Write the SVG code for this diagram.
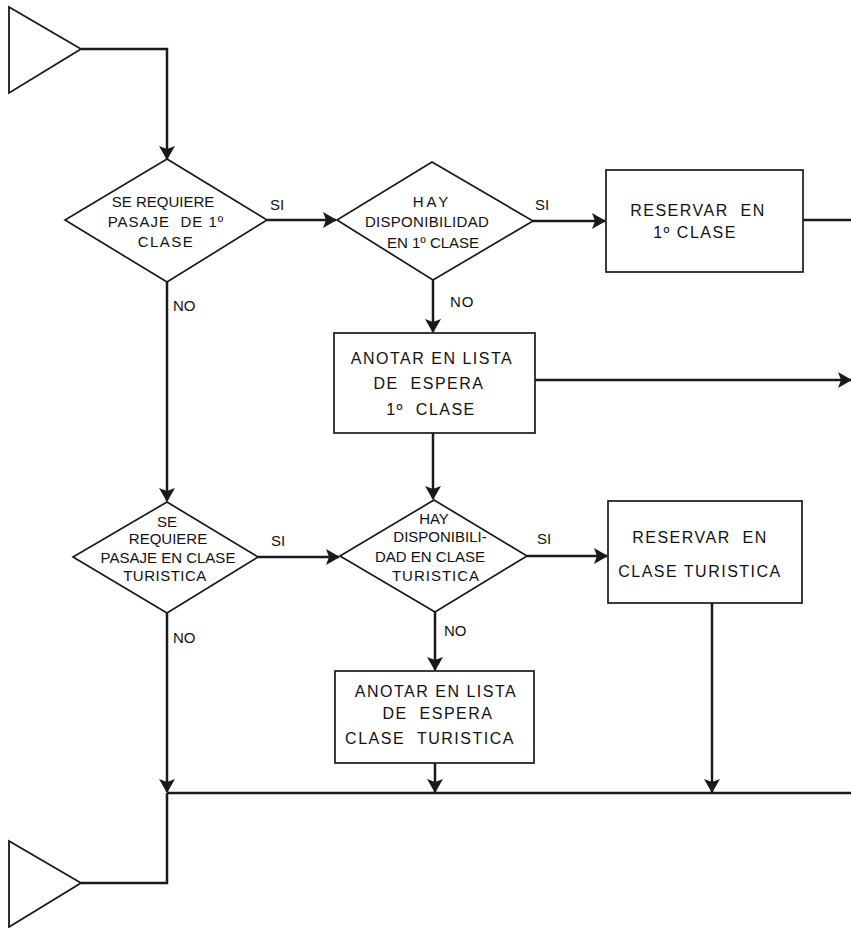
<svg xmlns="http://www.w3.org/2000/svg" width="851" height="928" viewBox="0 0 851 928">
<style>
.shape{fill:#fff;stroke:#1a1a1a;stroke-width:1.7}
.term{fill:#fff;stroke:#1a1a1a;stroke-width:1.8}
.conn{fill:none;stroke:#1a1a1a;stroke-width:2.5}
.t{font-family:"Liberation Sans",Arial,sans-serif;font-size:15px;fill:#111;text-anchor:middle}
.tb{font-family:"Liberation Sans",Arial,sans-serif;font-size:16px;fill:#111;text-anchor:middle;letter-spacing:1.5px}
.lbl{font-family:"Liberation Sans",Arial,sans-serif;font-size:15px;fill:#111}
</style>
<defs>
<marker id="ah" markerUnits="userSpaceOnUse" markerWidth="14" markerHeight="16" viewBox="0 0 14 16" refX="13" refY="8" orient="auto">
<path d="M0,0 L14,8 L0,16 L3,8 z" fill="#1a1a1a"/>
</marker>
</defs>

<g id="connectors">
<polyline class="conn" points="81,49 167,49 167,159" marker-end="url(#ah)"/>
<line class="conn" x1="267" y1="220" x2="336" y2="220" marker-end="url(#ah)"/>
<line class="conn" x1="533" y1="221" x2="605" y2="221" marker-end="url(#ah)"/>
<line class="conn" x1="803" y1="220" x2="851" y2="220"/>
<line class="conn" x1="433" y1="280" x2="433" y2="332" marker-end="url(#ah)"/>
<line class="conn" x1="535" y1="380" x2="851" y2="380" marker-end="url(#ah)"/>
<line class="conn" x1="167" y1="282" x2="167" y2="501" marker-end="url(#ah)"/>
<line class="conn" x1="433" y1="433" x2="433" y2="499" marker-end="url(#ah)"/>
<line class="conn" x1="258" y1="557" x2="339" y2="557" marker-end="url(#ah)"/>
<line class="conn" x1="527" y1="556" x2="607" y2="556" marker-end="url(#ah)"/>
<line class="conn" x1="435" y1="612" x2="435" y2="670" marker-end="url(#ah)"/>
<line class="conn" x1="435" y1="763" x2="435" y2="792" marker-end="url(#ah)"/>
<line class="conn" x1="712" y1="603" x2="712" y2="792" marker-end="url(#ah)"/>
<line class="conn" x1="167" y1="613" x2="167" y2="792" marker-end="url(#ah)"/>
<line class="conn" x1="167" y1="793" x2="851" y2="793"/>
<polyline class="conn" points="167,793 167,883 81,883"/>
<text class="lbl" x="270" y="210">SI</text>
<text class="lbl" x="535" y="210">SI</text>
<text class="lbl" x="173" y="311">NO</text>
<text class="lbl" x="450" y="307" letter-spacing="1">NO</text>
<text class="lbl" x="271" y="546">SI</text>
<text class="lbl" x="537" y="544">SI</text>
<text class="lbl" x="173" y="643">NO</text>
<text class="lbl" x="444" y="636">NO</text>
</g>

<g id="start">
<polygon class="term" points="9,7 81,49 9,93"/>
</g>

<g id="d1">
<polygon class="shape" points="167,159 267,220 167,282 65,220"/>
<text class="t" x="163" y="207">SE REQUIERE</text>
<text class="t" x="166" y="227" letter-spacing="1">PASAJE&#160;&#160;DE 1º</text>
<text class="t" x="166" y="247" letter-spacing="1.5">CLASE</text>
</g>

<g id="d2">
<polygon class="shape" points="432,162 533,221 433,280 337,220"/>
<text class="t" x="432" y="207" letter-spacing="3">HAY</text>
<text class="t" x="427" y="227" letter-spacing="0.3">DISPONIBILIDAD</text>
<text class="t" x="433" y="248">EN 1º CLASE</text>
</g>

<g id="b1">
<rect class="shape" x="606" y="170" width="197" height="102"/>
<text class="tb" x="698" y="216">RESERVAR&#160;&#160;EN</text>
<text class="tb" x="695" y="238">1º CLASE</text>
</g>

<g id="b2">
<rect class="shape" x="334" y="333" width="201" height="100"/>
<text class="tb" x="432" y="364">ANOTAR EN LISTA</text>
<text class="tb" x="429" y="389">DE&#160;&#160;ESPERA</text>
<text class="tb" x="431" y="415">1º&#160;&#160;CLASE</text>
</g>

<g id="d3">
<polygon class="shape" points="167,502 258,557 167,613 73,557"/>
<text class="t" x="167" y="527">SE</text>
<text class="t" x="168" y="544">REQUIERE</text>
<text class="t" x="168" y="563">PASAJE EN CLASE</text>
<text class="t" x="165" y="581" letter-spacing="0.5">TURISTICA</text>
</g>

<g id="d4">
<polygon class="shape" points="434,500 527,556 435,612 340,556"/>
<text class="t" x="434" y="524">HAY</text>
<text class="t" x="440" y="542">DISPONIBILI-</text>
<text class="t" x="430" y="562">DAD EN CLASE</text>
<text class="t" x="436" y="581" letter-spacing="1">TURISTICA</text>
</g>

<g id="b3">
<rect class="shape" x="608" y="501" width="194" height="102"/>
<text class="tb" x="700" y="543">RESERVAR&#160;&#160;EN</text>
<text class="tb" x="700" y="577" letter-spacing="1">CLASE TURISTICA</text>
</g>

<g id="b4">
<rect class="shape" x="335" y="671" width="199" height="92"/>
<text class="tb" x="436" y="697">ANOTAR EN LISTA</text>
<text class="tb" x="438" y="719">DE&#160;&#160;ESPERA</text>
<text class="tb" x="430" y="744">CLASE&#160;&#160;TURISTICA</text>
</g>

<g id="end">
<polygon class="term" points="9,841 81,883 9,927"/>
</g>
</svg>
